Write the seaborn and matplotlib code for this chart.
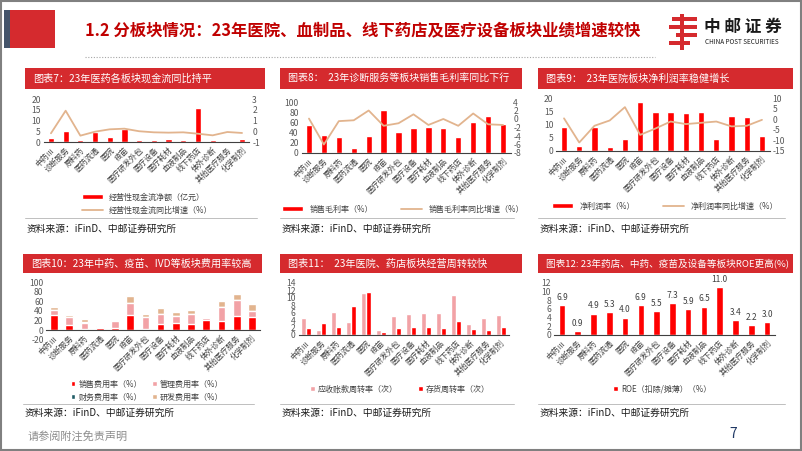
import numpy as np
import pandas as pd
import matplotlib
matplotlib.use("Agg")
import matplotlib.pyplot as plt
import seaborn as sns
from matplotlib.patches import Rectangle, Patch
from matplotlib.lines import Line2D

# ---------------- data ----------------
categories = ["中药Ⅲ", "诊断服务", "原料药", "医药流通", "医院", "疫苗", "医疗研发外包",
              "医疗设备", "医疗耗材", "血液制品", "线下药店", "体外诊断", "其他医疗服务", "化学制剂"]

cash_flow = [1.9, 5.3, 1.1, 4.5, 2.2, 6.0, 0.9, 1.1, 1.6, 1.1, 15.7, 1.1, 0.5, 1.4]
cash_flow_yoy = [-0.19, 1.91, -0.41, -0.04, 0.18, 0.24, 0.0, -0.1, -0.13, -0.1, -0.23, -0.38, -0.07, -0.16]

gross_margin = [54, 35, 31, 10.5, 34, 85, 41, 50, 51, 50, 31, 61, 73, 57.5]
gross_margin_yoy = [0.1, -6.0, -0.5, -0.3, 2.0, -1.6, -1.0, 1.1, -1.4, 0.0, -1.6, 1.3, -1.25, -1.4]

net_margin = [9.2, 1.9, 9.1, 1.6, 4.7, 18.5, 14.6, 14.9, 14.4, 14.9, 4.4, 13.3, 12.7, 5.7]
net_margin_yoy = [0.4, -11.0, -3.1, -0.6, 5.7, -7.4, -4.4, -1.1, -2.3, -1.7, -1.1, -3.4, -3.1, -0.3]

sales_exp = [31, 10.5, 2.5, 4.5, 4.5, 31.5, 2, 13, 14.7, 13.3, 21.7, 19, 28.7, 28]
admin_exp = [10, 16, 13, 2.5, 13.5, 25, 25, 20, 15, 20, 3, 28, 33, 12]
fin_exp = [0.5, 1.0, 0.5, 0.5, 1.2, 0.3, 0.3, 0.3, 0.3, 0.3, 0.5, 0.3, 0.3, 0.3]
rd_exp = [6, 3.5, 6, 0.3, 0.8, 14, 6, 12, 8, 9, 0.8, 13, 14, 14]

recv_turn = [4.7, 1.3, 6.3, 3.4, 11.3, 1.3, 5.0, 5.6, 6.0, 5.8, 10.7, 3.0, 4.7, 5.4]
inv_turn = [2.0, 3.3, 2.1, 7.9, 11.7, 0.7, 2.0, 2.1, 2.1, 1.9, 3.7, 1.7, 1.3, 2.1]

roe = [6.9, 0.9, 4.9, 5.3, 4.0, 6.9, 5.5, 7.3, 5.9, 6.5, 11.0, 3.4, 2.2, 3.0]

# ---------------- style ----------------
sns.set_style("white")
plt.rcParams["font.family"] = ["Noto Sans CJK SC", "DejaVu Sans"]
plt.rcParams["axes.unicode_minus"] = False

W, H = 802, 451
RED = "#FF0000"
TITLE_RED = "#D52A2E"
TAN = "#E2B48E"
PINK = "#F2A2A6"
TEAL = "#1F5C66"
GRAY = "#595959"

fig = plt.figure(figsize=(W / 100, H / 100), dpi=100)
fig.patch.set_facecolor("white")


def rect(x0, y0, x1, y1):
    return [x0 / W, 1 - y1 / H, (x1 - x0) / W, (y1 - y0) / H]


def frect(x0, y0, x1, y1, color, **kw):
    fig.add_artist(Rectangle((x0 / W, 1 - y1 / H), (x1 - x0) / W, (y1 - y0) / H,
                             transform=fig.transFigure, facecolor=color, lw=0, **kw))


def ftext(x, y, s, **kw):
    fig.text(x / W, 1 - y / H, s, **kw)


def fline(x0, x1, y, color="#BFBFBF", lw=0.8, ls="-"):
    fig.add_artist(Line2D([x0 / W, x1 / W], [1 - y / H, 1 - y / H], transform=fig.transFigure,
                          color=color, lw=lw, ls=ls))


# ---------------- header ----------------
frect(4, 10, 10, 48, "#44546A")
frect(10, 10, 55, 48, "#D52A2E")
ftext(85, 30, "1.2 分板块情况：23年医院、血制品、线下药店及医疗设备板块业绩增速较快",
      fontsize=11.8, fontweight="bold", color="#C00000", va="center", ha="left")
fline(85, 655, 57, color="#A6A6A6", lw=0.8, ls=(0, (1, 1.5)))
# logo
for (a, b, c, d) in [(672, 17, 697, 21), (669, 25, 697, 29), (676, 33, 697, 37), (669, 41, 690, 45)]:
    frect(a, b, c, d, "#D52A2E")
frect(680, 14, 684, 50, "#D52A2E")
ftext(704, 27, "中 邮 证 券", fontsize=12, fontweight="bold", color="#1A1A1A", va="center", ha="left")
ftext(705, 42, "CHINA POST SECURITIES", fontsize=4.6, color="#1A1A1A", va="center", ha="left")

# border
fig.add_artist(Rectangle((0.001, 0.002), 0.998, 0.996, transform=fig.transFigure,
                         fill=False, edgecolor="#808080", lw=1.5))

# footer
ftext(28, 436, "请参阅附注免责声明", fontsize=8, color="#8C8C8C", va="center", ha="left")
ftext(733, 434, "7", fontsize=10, color="#1F3864", va="center", ha="center")

# ---------------- panel frames ----------------
panels = [
    (25, 68, 265, 89, "图表7：23年医药各板块现金流同比持平", 218, 229, 7.3),
    (280, 68, 522, 89, "图表8：  23年诊断服务等板块销售毛利率同比下行", 218, 229, 7.2),
    (538, 68, 793, 89, "图表9：  23年医院板块净利润率稳健增长", 218, 229, 7.3),
    (23, 254, 262, 273, "图表10：23年中药、疫苗、IVD等板块费用率较高", 404, 413, 7.3),
    (280, 254, 522, 273, "图表11：  23年医院、药店板块经营周转较快", 404, 413, 7.3),
    (538, 254, 793, 273, "图表12: 23年药店、中药、疫苗及设备等板块ROE更高(%)", 404, 413, 6.9),
]
for (x0, y0, x1, y1, t, ly, sy, fs) in panels:
    frect(x0, y0, x1, y1, TITLE_RED)
    ftext(x0 + 8, (y0 + y1) / 2, t, fontsize=fs, color="white", va="center", ha="left")
    fline(x0, x1 - 8, ly, color="#BFBFBF", lw=0.7)
    ftext(x0 + 2, sy, "资料来源：iFinD、中邮证券研究所", fontsize=7, color="#1A1A1A",
          va="center", ha="left")

n = len(categories)
pos = np.arange(n)


def style_cat_axis(ax, zero_spine=False):
    if zero_spine:
        ax.spines["bottom"].set_position(("data", 0))
    ax.set_xlim(-0.5, n - 0.5)
    ax.set_xticks(pos)
    ax.set_xticklabels(categories, rotation=45, ha="right", rotation_mode="anchor",
                       fontsize=5.6, color="#404040")
    ax.set_xticks(np.arange(n + 1) - 0.5, minor=True)
    ax.tick_params(axis="x", which="major", length=0, pad=3)
    ax.tick_params(axis="x", which="minor", length=2.5, width=0.7, color="#404040", direction="out")
    ax.tick_params(axis="y", length=0, labelsize=6.2, labelcolor=GRAY, pad=2)
    for s in ["top", "right", "left"]:
        ax.spines[s].set_visible(False)
    ax.spines["bottom"].set_color("#404040")
    ax.spines["bottom"].set_linewidth(0.8)
    ax.set_xlabel("")
    ax.set_ylabel("")
    ax.set_facecolor("none")


def style_twin(ax2):
    for s in ["top", "right", "left", "bottom"]:
        ax2.spines[s].set_visible(False)
    ax2.tick_params(axis="y", length=0, labelsize=6.2, labelcolor=GRAY, pad=2)
    ax2.set_ylabel("")


def combo(axrect, bars, line, ylim, yticks, y2lim, y2ticks, bw=0.38):
    ax = fig.add_axes(rect(*axrect))
    df = pd.DataFrame({"cat": categories, "v": bars})
    sns.barplot(data=df, x="cat", y="v", color=RED, width=bw, saturation=1, ax=ax)
    style_cat_axis(ax)
    ax.set_ylim(*ylim)
    ax.set_yticks(yticks)
    ax2 = ax.twinx()
    sns.lineplot(x=pos, y=line, color=TAN, lw=1.3, ax=ax2)
    ax2.set_ylim(*y2lim)
    ax2.set_yticks(y2ticks)
    style_twin(ax2)
    ax.set_xlim(-0.5, n - 0.5)
    return ax, ax2


# chart 7
combo((43.6, 99, 249.4, 142), cash_flow, cash_flow_yoy, (0, 20), [0, 5, 10, 15, 20],
      (-1, 3), [-1, 0, 1, 2, 3], bw=0.42)
fig.legend(handles=[Patch(facecolor=RED, label="经营性现金流净额（亿元）"),
                    Line2D([], [], color=TAN, lw=1.3, label="经营性现金流同比增速（%）")],
           loc="center", bbox_to_anchor=(147 / W, 1 - 203.5 / H), ncol=1, frameon=False,
           fontsize=5.8, handlelength=2.6, handleheight=0.6, labelspacing=0.55,
           labelcolor="#404040")

# chart 8
combo((301.5, 102, 510.5, 153), gross_margin, gross_margin_yoy, (0, 100), [0, 20, 40, 60, 80, 100],
      (-8, 4), [-8, -6, -4, -2, 0, 2, 4], bw=0.42)
fig.legend(handles=[Patch(facecolor=RED, label="销售毛利率（%）"),
                    Line2D([], [], color=TAN, lw=1.3, label="销售毛利率同比增速（%）")],
           loc="center", bbox_to_anchor=(403 / W, 1 - 209 / H), ncol=2, frameon=False,
           fontsize=5.8, handlelength=2.6, handleheight=0.6, columnspacing=3.5,
           labelcolor="#404040")

# chart 9
combo((556.4, 98, 769.6, 151), net_margin, net_margin_yoy, (0, 20), [0, 5, 10, 15, 20],
      (-15, 10), [-15, -10, -5, 0, 5, 10], bw=0.42)
fig.legend(handles=[Patch(facecolor=RED, label="净利润率（%）"),
                    Line2D([], [], color=TAN, lw=1.3, label="净利润率同比增速（%）")],
           loc="center", bbox_to_anchor=(665 / W, 1 - 206 / H), ncol=2, frameon=False,
           fontsize=5.8, handlelength=2.6, handleheight=0.6, columnspacing=3.5,
           labelcolor="#404040")

# chart 10 (stacked)
ax10 = fig.add_axes(rect(46.4, 282, 259.6, 339.6))
s1 = np.array(sales_exp)
s2 = s1 + np.array(admin_exp)
s3 = s2 + np.array(fin_exp)
s4 = s3 + np.array(rd_exp)
for vals, col in [(s4, TAN), (s3, TEAL), (s2, PINK), (s1, RED)]:
    sns.barplot(x=categories, y=vals, color=col, width=0.5, saturation=1, ax=ax10)
ax10.set_ylim(-20, 100)
ax10.set_yticks([-20, 0, 20, 40, 60, 80, 100])
style_cat_axis(ax10, zero_spine=True)
fig.legend(handles=[Patch(facecolor=RED, label="销售费用率（%）"),
                    Patch(facecolor=TEAL, label="财务费用率（%）"),
                    Patch(facecolor=PINK, label="管理费用率（%）"),
                    Patch(facecolor=TAN, label="研发费用率（%）")],
           loc="center", bbox_to_anchor=(147 / W, 1 - 390.5 / H), ncol=2, frameon=False,
           fontsize=5.8, handlelength=0.6, handleheight=0.6, handletextpad=0.4,
           columnspacing=1.2, labelspacing=0.5, labelcolor="#404040")

# chart 11 (grouped)
ax11 = fig.add_axes(rect(298.5, 283, 508.5, 335))
df11 = pd.DataFrame({
    "cat": categories * 2,
    "v": recv_turn + inv_turn,
    "s": ["应收账款周转率（次）"] * n + ["存货周转率（次）"] * n,
})
sns.barplot(data=df11, x="cat", y="v", hue="s", palette=[PINK, RED], width=0.66, gap=0.15,
            saturation=1, legend=False, ax=ax11)
style_cat_axis(ax11)
ax11.set_ylim(0, 14)
ax11.set_yticks([0, 2, 4, 6, 8, 10, 12, 14])
fig.legend(handles=[Patch(facecolor=PINK, label="应收账款周转率（次）"),
                    Patch(facecolor=RED, label="存货周转率（次）")],
           loc="center", bbox_to_anchor=(400 / W, 1 - 389 / H), ncol=2, frameon=False,
           fontsize=5.8, handlelength=0.6, handleheight=0.6, handletextpad=0.4,
           columnspacing=2.5, labelcolor="#404040")

# chart 12
ax12 = fig.add_axes(rect(554, 283, 775, 335))
sns.barplot(x=categories, y=roe, color=RED, width=0.42, saturation=1, ax=ax12)
style_cat_axis(ax12)
ax12.set_ylim(0, 12)
ax12.set_yticks([0, 2, 4, 6, 8, 10, 12])
for c in ax12.containers:
    ax12.bar_label(c, fmt="%.1f", fontsize=6, color="#404040", padding=2.5)
fig.legend(handles=[Patch(facecolor=RED, label="ROE（扣除/摊薄）（%）")],
           loc="center", bbox_to_anchor=(662 / W, 1 - 389 / H), ncol=1, frameon=False,
           fontsize=5.8, handlelength=0.6, handleheight=0.6, handletextpad=0.4,
           labelcolor="#404040")

fig.savefig("out.png", dpi=100, facecolor="white")
